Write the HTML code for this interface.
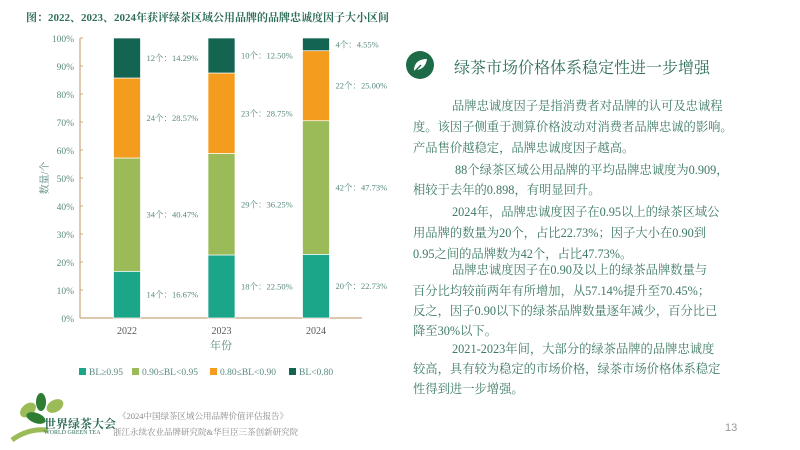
<!DOCTYPE html>
<html><head><meta charset="utf-8"><style>
body{margin:0;width:800px;height:450px;background:#fff;position:relative;overflow:hidden;font-family:"Liberation Serif","Noto Serif CJK SC",serif}
.t{position:absolute;white-space:nowrap;color:#3d7a62;font-size:12.3px}
</style></head><body>
<div class="t" style="left:26px;top:9px;font-size:11px;font-weight:bold;color:#2e6e57">图：2022、2023、2024年获评绿茶区域公用品牌的品牌忠诚度因子大小区间</div>
<svg id="chart" width="400" height="390" style="position:absolute;left:0;top:0" font-family="Liberation Serif, Noto Serif CJK SC, serif"></svg>

<div style="position:absolute;left:406px;top:51px;width:28px;height:28px;border-radius:50%;background:#1e6b47">
<svg width="28" height="28"><path d="M8 20 C8 11 14 8 21 8 C20 15 16 19 9 19 Z" fill="#fff"/><path d="M7 22 L15 14" stroke="#1e6b47" stroke-width="1.5"/></svg></div>
<div class="t" style="left:454px;top:55px;font-size:16px;color:#2e6e57">绿茶市场价格体系稳定性进一步增强</div>

<div>
<div class="t" style="left:452px;top:96px">品牌忠诚度因子是指消费者对品牌的认可及忠诚程</div>
<div class="t" style="left:413px;top:117px">度。该因子侧重于测算价格波动对消费者品牌忠诚的影响。</div>
<div class="t" style="left:413px;top:138px">产品售价越稳定，品牌忠诚度因子越高。</div>
<div class="t" style="left:455px;top:160px">88个绿茶区域公用品牌的平均品牌忠诚度为0.909，</div>
<div class="t" style="left:413px;top:180px">相较于去年的0.898，有明显回升。</div>
<div class="t" style="left:452px;top:202px">2024年，品牌忠诚度因子在0.95以上的绿茶区域公</div>
<div class="t" style="left:413px;top:223px">用品牌的数量为20个，占比22.73%；因子大小在0.90到</div>
<div class="t" style="left:413px;top:244px">0.95之间的品牌数为42个，占比47.73%。</div>
<div class="t" style="left:452px;top:260px">品牌忠诚度因子在0.90及以上的绿茶品牌数量与</div>
<div class="t" style="left:413px;top:281px">百分比均较前两年有所增加，从57.14%提升至70.45%；</div>
<div class="t" style="left:413px;top:301px">反之，因子0.90以下的绿茶品牌数量逐年减少，百分比已</div>
<div class="t" style="left:413px;top:321px">降至30%以下。</div>
<div class="t" style="left:452px;top:339px">2021-2023年间，大部分的绿茶品牌的品牌忠诚度</div>
<div class="t" style="left:413px;top:359px">较高，具有较为稳定的市场价格，绿茶市场价格体系稳定</div>
<div class="t" style="left:413px;top:379px">性得到进一步增强。</div>
</div>
<div class="t" style="left:725px;top:422px;font-size:11px;color:#999;font-family:'Liberation Sans',sans-serif">13</div>

<div style="position:absolute;left:8px;top:390px;width:100px;height:55px">
<svg width="100" height="55"><ellipse cx="20" cy="20" rx="9" ry="6" fill="#9bbb59" transform="rotate(-40 20 20)"/><ellipse cx="33" cy="12" rx="5" ry="9" fill="#2e7d32"/><ellipse cx="47" cy="16" rx="9" ry="6" fill="#9bbb59" transform="rotate(-30 47 16)"/><ellipse cx="28" cy="28" rx="10" ry="5" fill="#2e7d32" transform="rotate(20 28 28)"/><path d="M4 50 Q20 38 40 40" stroke="#9bbb59" stroke-width="5" fill="none"/></svg>
<div class="t" style="left:36px;top:25px;font-size:12px;color:#2e6e57;font-weight:bold">世界绿茶大会</div>
<div class="t" style="left:36px;top:40px;font-size:6px;color:#2e6e57">WORLD GREEN TEA</div>
</div>
<div class="t" style="left:118px;top:410px;font-size:8.5px;color:#888">《2024中国绿茶区域公用品牌价值评估报告》</div>
<div class="t" style="left:113px;top:426px;font-size:8.5px;color:#888">浙江永续农业品牌研究院&amp;华巨臣三茶创新研究院</div>

<script>
const years=['2022','2023','2024'];
const seriesNames=['BL≥0.95','0.90≤BL<0.95','0.80≤BL<0.90','BL<0.80'];
const counts=[[14,18,20],[34,29,42],[24,23,22],[12,10,4]];
const pcts=[[16.67,22.50,22.73],[40.47,36.25,47.73],[28.57,28.75,25.00],[14.29,12.50,4.55]];
const pctLabels=[['16.67%','22.50%','22.73%'],['40.47%','36.25%','47.73%'],['28.57%','28.75%','25.00%'],['14.29%','12.50%','4.55%']];
const yTicks=[0,10,20,30,40,50,60,70,80,90,100];
const colors=['#1ba589','#9bbb59','#f39c1e','#136450'];
const svg=document.getElementById('chart');const NS='http://www.w3.org/2000/svg';
function mk(t,a){const e=document.createElementNS(NS,t);for(const k in a)e.setAttribute(k,a[k]);svg.appendChild(e);return e;}
const x0=80,x1=362,yb=318,yt=38;
const y=v=>yb-(v/100)*(yb-yt);
const xc=i=>x0+47+i*94.5;
const bw=27;
yTicks.forEach(v=>{const t=mk('text',{x:74,y:y(v)+4,'text-anchor':'end','font-size':9.5,fill:'#5a8a80'});t.textContent=v+'%';


mk('line',{x1:x0,x2:x0+3,y1:y(v),y2:y(v),stroke:'#c8a87a'});});
const ya=mk('line',{x1:x0,x2:x0,y1:yt,y2:yb,stroke:'#c8a87a','stroke-width':1.2});


const xa=mk('line',{x1:x0,x2:x1,y1:yb,y2:yb,stroke:'#c8a87a','stroke-width':1.2});


years.forEach((yr,i)=>{let acc=0;
for(let s=0;s<4;s++){const v=pcts[s][i];const r=mk('rect',{x:xc(i)-bw/2,y:y(acc+v),width:bw,height:y(acc)-y(acc+v),fill:colors[s],stroke:'#fff','stroke-width':0.7});


const mid=y(acc+v/2);const lx=xc(i)+bw/2+6;
const t=mk('text',{x:lx,y:mid+3,'font-size':8.5,fill:'#5a8a80'});t.textContent=counts[s][i]+'个：'+pctLabels[s][i];


acc+=v;}
const l=mk('text',{x:xc(i),y:yb+16,'text-anchor':'middle','font-size':10,fill:'#555'});l.textContent=yr;

});
const xt=mk('text',{x:221,y:349,'text-anchor':'middle','font-size':11,fill:'#5a8a80'});xt.textContent='年份';


const yt2=mk('text',{x:0,y:0,'text-anchor':'middle','font-size':10,fill:'#5a8a80',transform:'translate(48,178) rotate(-90)'});yt2.textContent='数量/个';


const lx=[79,132,210,289];
seriesNames.forEach((n,s)=>{const g=document.createElementNS(NS,'g');svg.appendChild(g);


const r=document.createElementNS(NS,'rect');r.setAttribute('x',lx[s]);r.setAttribute('y',368);r.setAttribute('width',7);r.setAttribute('height',7);r.setAttribute('fill',colors[s]);g.appendChild(r);
const t=document.createElementNS(NS,'text');t.setAttribute('x',lx[s]+10);t.setAttribute('y',375);t.setAttribute('font-size',9.5);t.setAttribute('fill','#5a8a80');t.textContent=n;g.appendChild(t);});
</script>
</body></html>
